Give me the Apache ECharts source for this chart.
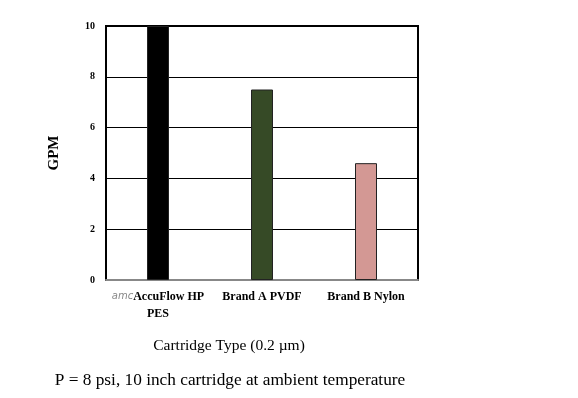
<!DOCTYPE html>
<html lang="en">
<head>
    <meta charset="UTF-8">
    <title>GPM by cartridge type</title>
    <script src="https://cdn.jsdelivr.net/npm/echarts@6/dist/echarts.min.js"></script>
</head>
<body style="margin:0;background:#fff">
    <div id="main" style="width: 578px;height:398px;"></div>
    <script type="text/javascript">
        var categories = ['{amc|amc}AccuFlow HP\nPES', 'Brand A PVDF', 'Brand B Nylon'];
        var gpm = [10, 7.5, 4.6];
        var barColors = ['#000000', '#364a26', '#d39894'];

        var serif = '"Liberation Serif", "DejaVu Serif", serif';
        var myChart = echarts.init(document.getElementById('main'));
        var option = {
            backgroundColor: '#fff',
            animation: false,
            title: [{
                text: 'Cartridge Type (0.2 µm)',
                left: 224, top: 333, textAlign: 'center',
                textStyle: {fontFamily: serif, fontSize: 15.5, fontWeight: 'normal', color: '#000'}
            }, {
                text: 'P = 8 psi, 10 inch cartridge at ambient temperature',
                left: 225, top: 367, textAlign: 'center',
                textStyle: {fontFamily: serif, fontSize: 17.3, fontWeight: 'normal', color: '#000'}
            }],
            grid: {
                left: 106, top: 26, width: 312, height: 254,
                show: true, borderColor: '#000', borderWidth: 2, backgroundColor: '#fff'
            },
            xAxis: {
                type: 'category',
                data: categories,
                axisTick: {show: false},
                axisLine: {lineStyle: {color: '#888', width: 2}},
                axisLabel: {
                    interval: 0, margin: 8, lineHeight: 17,
                    fontFamily: serif, fontSize: 12, fontWeight: 'bold', color: '#000',
                    rich: {
                        amc: {fontFamily: '"DejaVu Sans", sans-serif', fontStyle: 'italic', fontWeight: 'normal', fontSize: 10, color: '#888'}
                    }
                }
            },
            yAxis: {
                type: 'value',
                min: 0, max: 10, interval: 2,
                name: 'GPM', nameLocation: 'middle', nameGap: 44, nameRotate: 90,
                nameTextStyle: {fontFamily: serif, fontSize: 15, fontWeight: 'bold', color: '#000'},
                axisLine: {show: true, lineStyle: {color: '#000', width: 2}},
                axisTick: {show: false},
                axisLabel: {margin: 11, fontFamily: serif, fontSize: 10, fontWeight: 'bold', color: '#000'},
                splitLine: {lineStyle: {color: '#000', width: 1.2}}
            },
            series: [{
                type: 'bar',
                barWidth: 22,
                data: gpm.map(function (v, i) {
                    return {value: v, itemStyle: {color: barColors[i]}};
                }),
                itemStyle: {borderColor: '#222', borderWidth: 1}
            }]
        };
        myChart.setOption(option);
    </script>
</body>
</html>
